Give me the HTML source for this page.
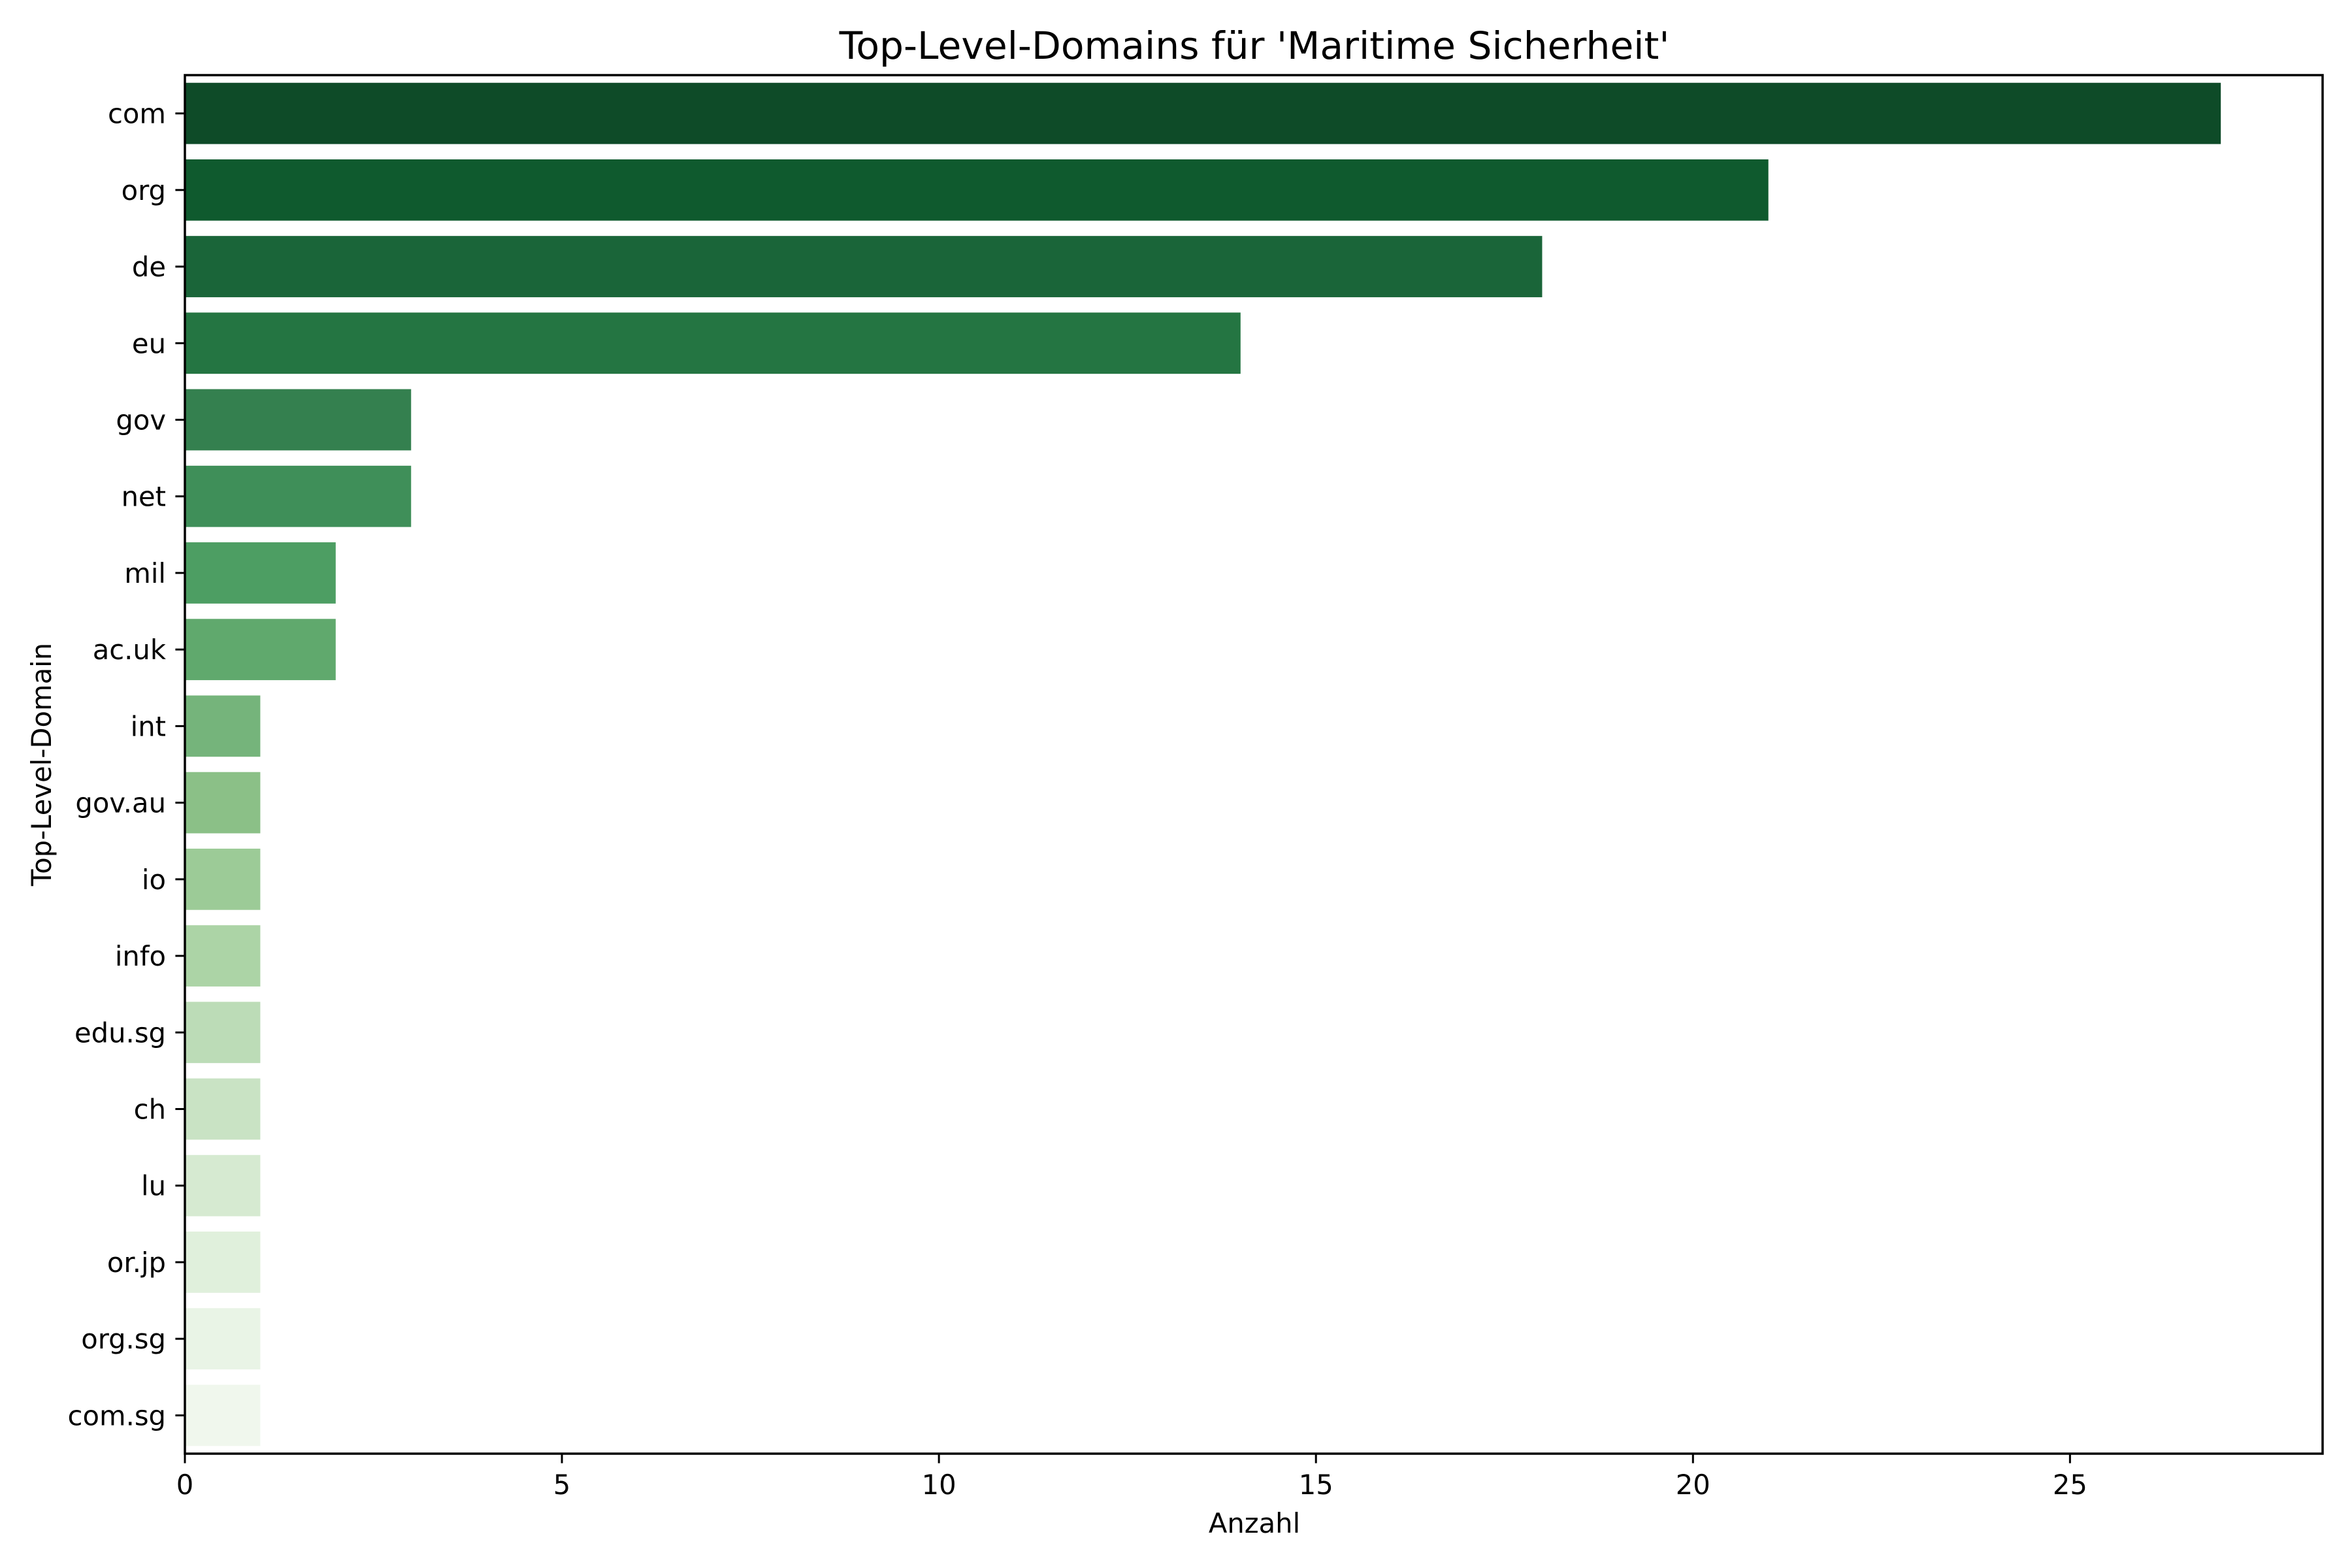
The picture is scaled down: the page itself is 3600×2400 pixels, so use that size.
<!DOCTYPE html>
<html><head><meta charset="utf-8"><style>
html,body{margin:0;padding:0;background:#fff;}
svg{display:block;font-family:"DejaVu Sans","Liberation Sans",sans-serif;}
</style></head><body>
<svg id="chart" width="3600" height="2400" viewBox="0 0 3600 2400" xmlns="http://www.w3.org/2000/svg">
<rect x="0" y="0" width="3600" height="2400" fill="#fff"/>
<text x="1920" y="90" font-size="58.3" text-anchor="middle">Top-Level-Domains für 'Maritime Sicherheit'</text>
<text x="1920" y="2346" font-size="41.7" text-anchor="middle">Anzahl</text>
<text x="0" y="0" font-size="41.7" text-anchor="middle" transform="translate(78,1170) rotate(-90)">Top-Level-Domain</text>
<g id="bars"></g>
<g id="yticks"></g>
<g id="xticks"></g>
<rect x="283" y="115" width="3272" height="2110" fill="none" stroke="#000" stroke-width="3.5"/>
</svg>
<script>
const categories = ["com","org","de","eu","gov","net","mil","ac.uk","int","gov.au","io","info","edu.sg","ch","lu","or.jp","org.sg","com.sg"];
const counts = [27,21,18,14,3,3,2,2,1,1,1,1,1,1,1,1,1,1];
const xTicks = [0,5,10,15,20,25];
const colors = ["#0e4b28","#0f5a2e","#1a6539","#247542","#34804f","#3f8f59","#4d9e63","#60a96d","#75b47b","#8bc087","#9ccb97","#acd4a6","#bcdcb7","#c9e3c4","#d6ead1","#e0f0dc","#e9f4e6","#f0f7ed"];

const L=283,R=3555,T=115,B=2225;
const xmax=Math.max(...counts)*1.05;
const xs=v=>L+(v/xmax)*(R-L);
const step=(B-T)/categories.length;
const yc=i=>T+step*(i+0.5);
const NS="http://www.w3.org/2000/svg";
function mk(tag,attrs,parent){const e=document.createElementNS(NS,tag);for(const k in attrs)e.setAttribute(k,attrs[k]);parent.appendChild(e);return e;}
const gb=document.getElementById('bars'),gy=document.getElementById('yticks'),gx=document.getElementById('xticks');
categories.forEach((c,i)=>{
  const h=step*0.8;
  const r=mk('rect',{x:xs(0),y:yc(i)-h/2,width:xs(counts[i])-xs(0),height:h,fill:colors[i]},gb);
  
  
  const t=mk('line',{x1:L-14.6,x2:L,y1:yc(i),y2:yc(i),stroke:'#000','stroke-width':3},gy);
  
  
  const tx=mk('text',{x:L-29,y:yc(i)+15,'font-size':41.7,'text-anchor':'end'},gy);
  tx.textContent=c;
  
  
});
xTicks.forEach(v=>{
  const t=mk('line',{x1:xs(v),x2:xs(v),y1:B,y2:B+14.6,stroke:'#000','stroke-width':3},gx);
  
  
  const tx=mk('text',{x:xs(v),y:B+62,'font-size':41.7,'text-anchor':'middle'},gx);
  tx.textContent=String(v);
  
  
});
</script>
</body></html>
